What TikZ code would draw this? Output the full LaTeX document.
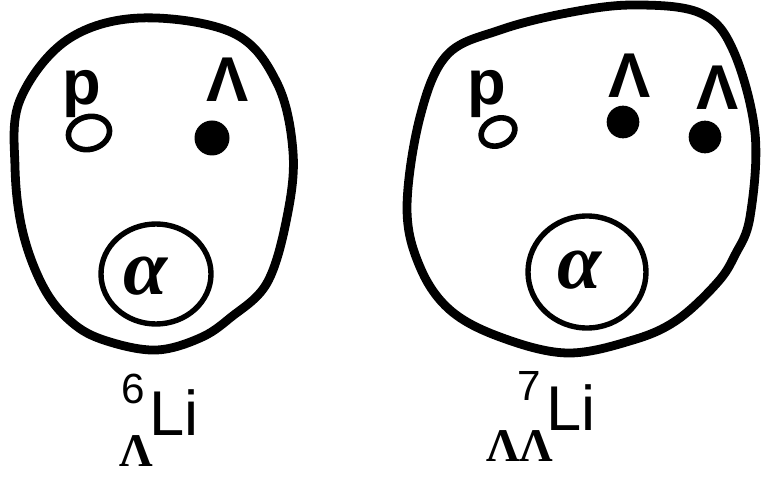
\documentclass[tikz,border=0pt]{standalone}
\usepackage{fontspec}
\setmainfont{Liberation Sans}
\newfontfamily\serifgr{Liberation Serif}
\usetikzlibrary{shapes.geometric}
\begin{document}
\begin{tikzpicture}[x=0.03cm,y=-0.03cm,
  blob/.style={line width=7.5pt,line join=round},
  corecirc/.style={draw,line width=4.6pt,ellipse,inner sep=0pt},
  lam/.style={fill=black,circle,inner sep=0pt,minimum size=#1},
  prot/.style={draw,line width=4.8pt,ellipse,inner sep=0pt},
  hand/.style={inner sep=0pt,font=\fontsize{54}{56}\selectfont\bfseries},
  alph/.style={inner sep=0pt,font=\fontsize{68}{70}\serifgr\itshape\bfseries},
  lbl/.style={inner sep=0pt,anchor=base west}]
\useasboundingbox (0,0) rectangle (763,488);
% left nucleus
\draw[blob] plot[smooth cycle,tension=0.6] coordinates {(140,18) (233,33) (277,83) (293,152) (287,217) (267,283) (230,318) (200,338) (157,350) (110,342) (75,325) (45,290) (23,233) (15,167) (20,100) (67,40)};
\node[corecirc,minimum width=3.3cm,minimum height=3.0cm] (c1) at (156,274) {};
\node[alph] (a1) at (146,276) {α};
\node[hand] (p1) at (82,94) {p};
\node[prot,minimum width=1.25cm,minimum height=0.98cm,rotate=15] (n1) at (89,133) {};
\node[hand] (l1) at (228,80) {Λ};
\node[lam=1.05cm] (d1) at (212,138) {};
% right nucleus
\draw[blob] plot[smooth cycle,tension=0.6] coordinates {(633,5) (700,13) (733,50) (755,133) (750,217) (735,255) (717,283) (677,320) (633,340) (567,353) (500,337) (450,310) (420,267) (407,208) (420,117) (447,55) (500,30) (567,13)};
\node[corecirc,minimum width=3.54cm,minimum height=3.36cm] (c2) at (587,272) {};
\node[alph] (a2) at (580,270) {α};
\node[hand] (p2) at (487,94) {p};
\node[prot,minimum width=1.05cm,minimum height=0.8cm,rotate=25] (n2) at (498,132) {};
\node[hand] (l2) at (630,76) {Λ};
\node[lam=0.98cm] (d2) at (623,122) {};
\node[hand] (l3) at (718,88) {Λ};
\node[lam=0.98cm] (d3) at (705,137) {};
% labels
\node[lbl,font=\fontsize{36}{40}\selectfont] (m6) at (121,403) {6};
\node[lbl,font=\fontsize{54}{60}\selectfont] (li6) at (149,435) {Li};
\node[lbl,font=\fontsize{40}{44}\serifgr\bfseries] (s6) at (119,466) {Λ};
\node[lbl,font=\fontsize{36}{40}\selectfont] (m7) at (517,400) {7};
\node[lbl,font=\fontsize{54}{60}\selectfont] (li7) at (546,430) {Li};
\node[lbl,font=\fontsize{40}{44}\serifgr\bfseries] (s7) at (486,461) {ΛΛ};
\end{tikzpicture}
\end{document}
